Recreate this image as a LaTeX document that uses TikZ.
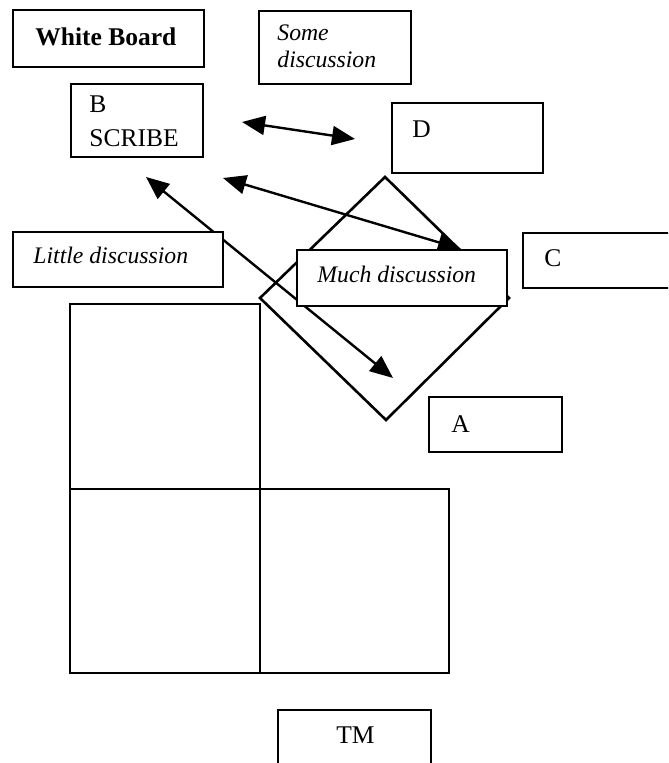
\documentclass[tikz,border=0pt]{standalone}
\usepackage{fontspec}
\setmainfont{Liberation Serif}
\usetikzlibrary{arrows.meta}
\begin{document}
\begin{tikzpicture}[x=0.5pt,y=-0.5pt,
  box/.style={draw, line width=1pt, fill=white, rectangle, inner sep=0pt},
  lbl/.style={anchor=base west, inner sep=0pt, font=\fontsize{12.75}{15}\selectfont},
  ilbl/.style={anchor=base west, inner sep=0pt, font=\fontsize{11.85}{14}\selectfont\itshape},
  cell/.style={draw, line width=0.8pt},
  mat/.style={draw, line width=1.3pt, line join=miter},
  link/.style={line width=1.2pt,
    {Triangle[length=11.5pt,width=9.5pt]}-{Triangle[length=11.5pt,width=9.5pt]}}]
\clip (0,0) rectangle (668,763);
\fill[white] (0,0) rectangle (668,763);

% table cells
\draw[cell] (70,304) rectangle (260,673);
\draw[cell] (70,489) -- (260,489);
\draw[cell] (260,489) rectangle (449,673);

% tilted square
\draw[mat] (260,298) -- (385,177) -- (509,298) -- (386,420) -- cycle;

% arrow end points
\coordinate (bd1) at (242,122);
\coordinate (bd2) at (355,139);
\coordinate (ba1) at (146,177);
\coordinate (ba2) at (393,378);
\coordinate (bc1) at (223,178);
\coordinate (bc2) at (461,249);

\draw[link] (bd1) -- (bd2);
\draw[link] (ba1) -- (ba2);
\draw[link] (bc1) -- (bc2);

% boxes
\node[box, minimum width=95.5pt, minimum height=28.5pt] (wb) at (108.5,38.5) {};
\node[box, minimum width=76pt,   minimum height=36.5pt] (sd) at (335,47.5) {};
\node[box, minimum width=66pt,   minimum height=36.5pt] (b)  at (137,120.5) {};
\node[box, minimum width=75.5pt, minimum height=35pt]   (d)  at (467.5,138) {};
\node[box, minimum width=105pt,  minimum height=27.5pt] (ld) at (118,259.5) {};
\node[box, minimum width=105pt,  minimum height=28pt]   (md) at (402,278) {};
\node[box, minimum width=83.5pt, minimum height=27.5pt] (c)  at (606.5,260.5) {};
\node[box, minimum width=66.5pt, minimum height=27.5pt] (a)  at (495.5,424.5) {};
\node[box, minimum width=76.5pt, minimum height=40pt]   (tm) at (354.5,750) {};

% labels
\node[lbl, font=\fontsize{12.75}{15}\selectfont\bfseries] (wbt) at (35,46) {White Board};
\node[ilbl] (sdt1) at (277,40.5) {Some};
\node[ilbl] (sdt2) at (277,68) {discussion};
\node[lbl] (bt1) at (89,113) {B};
\node[lbl] (bt2) at (89,147) {SCRIBE};
\node[lbl] (dt) at (412,137.5) {D};
\node[ilbl] (ldt) at (33,264) {Little discussion};
\node[ilbl] (mdt) at (317,283) {Much discussion};
\node[lbl] (ct) at (544,267) {C};
\node[lbl] (at) at (451,432) {A};
\node[lbl] (tmt) at (336,743) {TM};
\end{tikzpicture}
\end{document}
